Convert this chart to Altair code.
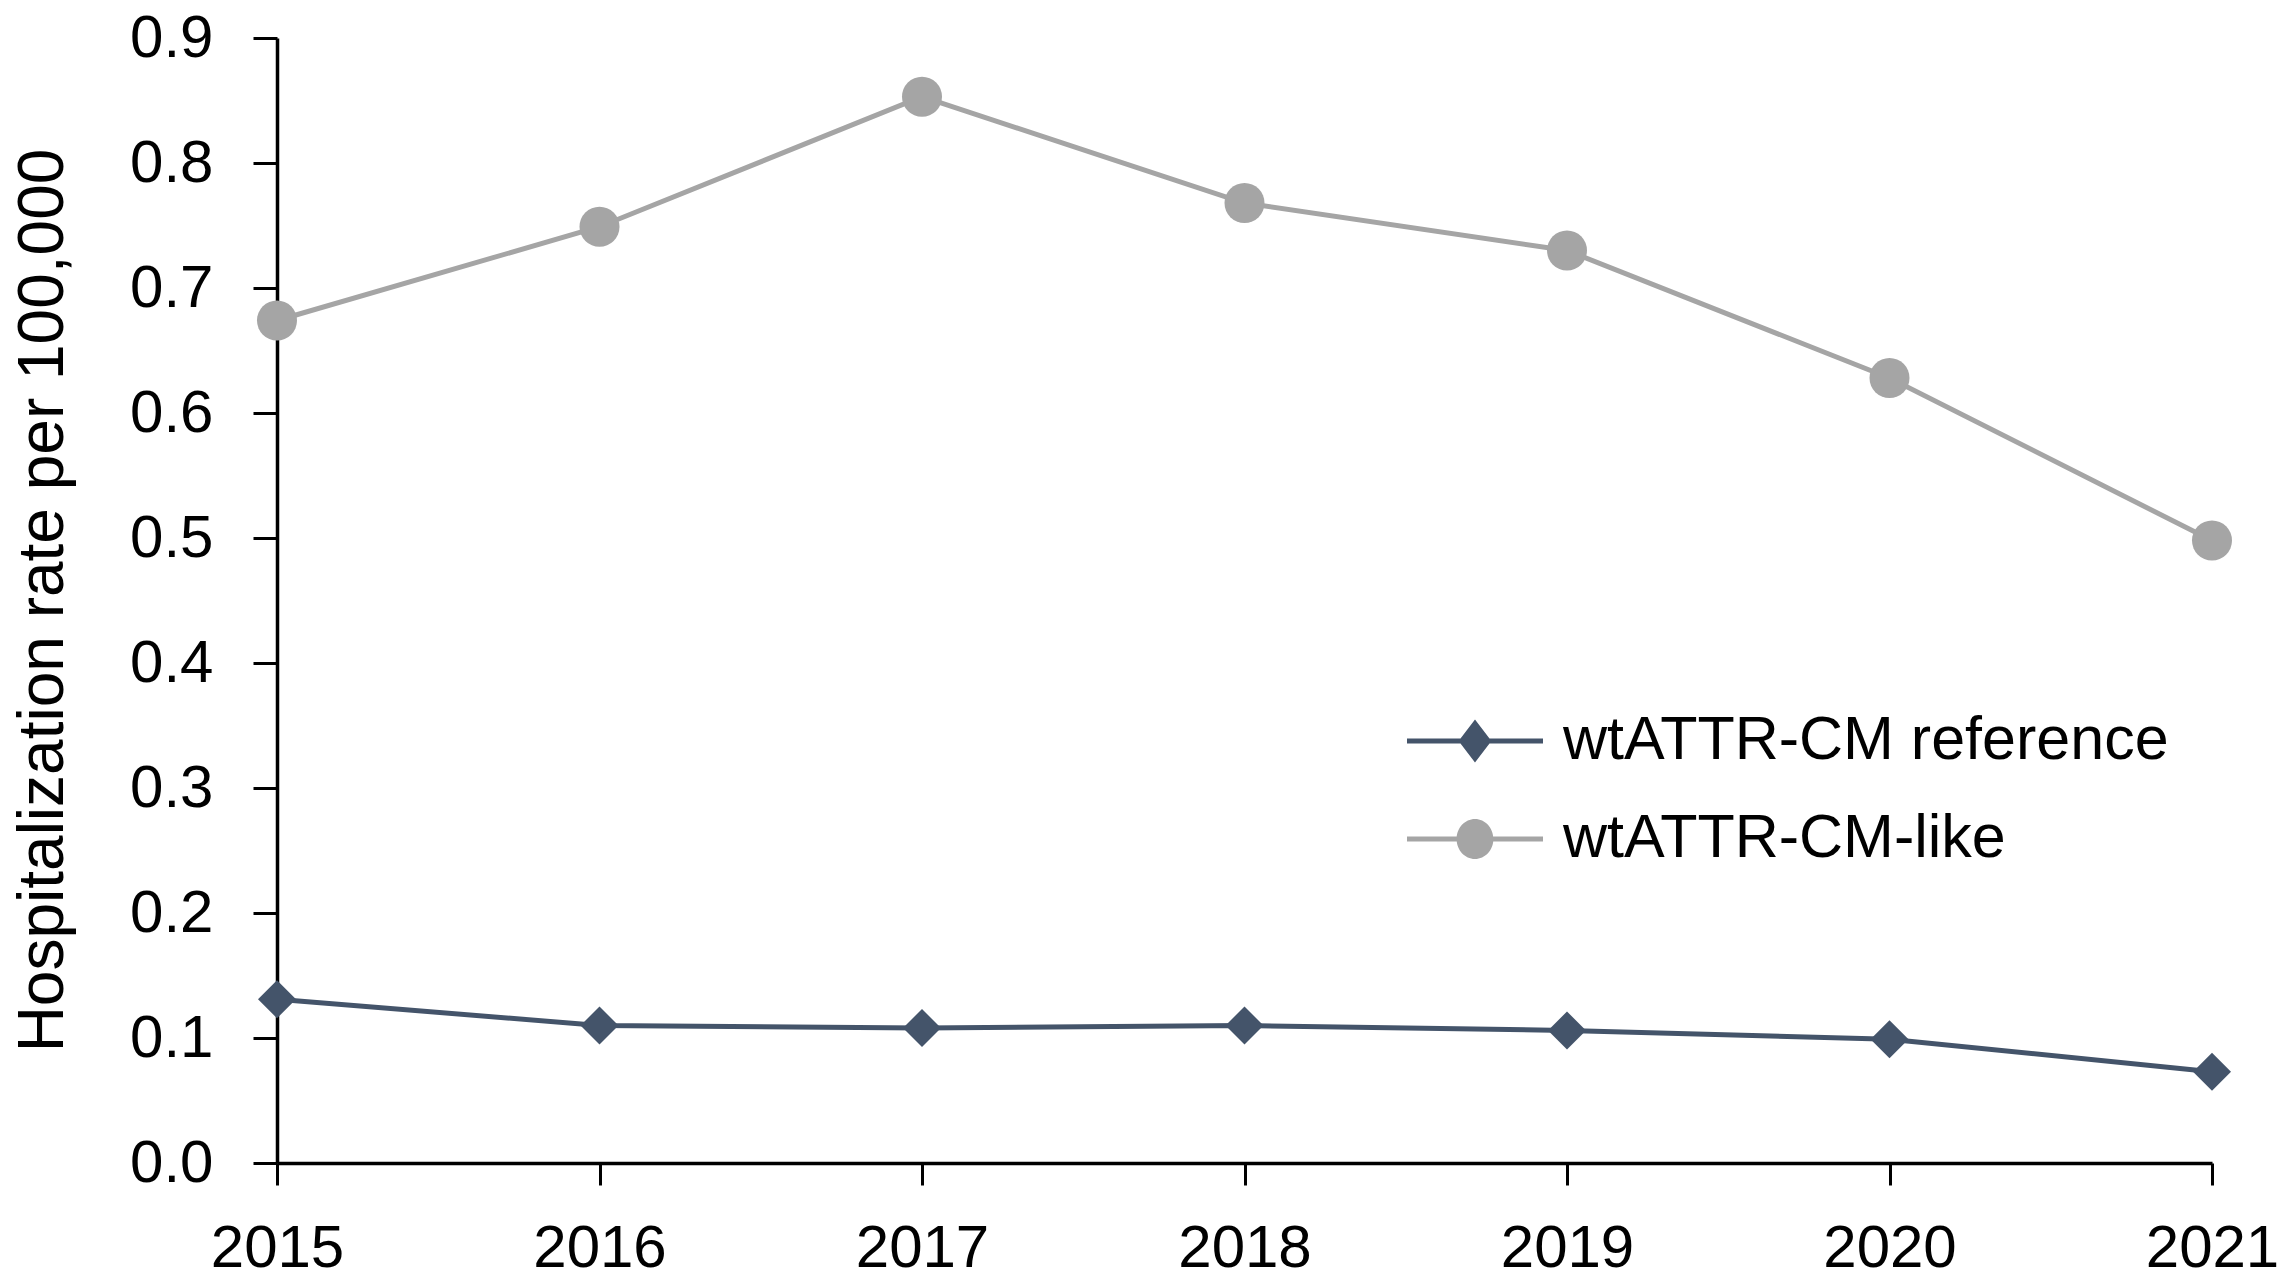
import altair as alt
import pandas as pd

# ---- data ----
years = [2015, 2016, 2017, 2018, 2019, 2020, 2021]
series_names = ["wtATTR-CM reference", "wtATTR-CM-like"]
reference_rate = [0.131, 0.110, 0.108, 0.110, 0.106, 0.099, 0.073]
like_rate = [0.674, 0.749, 0.853, 0.768, 0.730, 0.628, 0.498]
y_tick_values = [0.0, 0.1, 0.2, 0.3, 0.4, 0.5, 0.6, 0.7, 0.8, 0.9]
series_colors = ["#44546A", "#A5A5A5"]

rows = []
for name, vals in zip(series_names, [reference_rate, like_rate]):
    for yr, v in zip(years, vals):
        rows.append({"year": yr, "rate": v, "series": name})
df = pd.DataFrame(rows)

FONT = "Liberation Sans, Arial, sans-serif"

# legend symbols: a short line with the marker on it (all filled); 1 unit = 40 px
seg = "M-1.7,-0.0625L1.7,-0.0625L1.7,0.0625L-1.7,0.0625Z"
legend_diamond = seg + "M-0.41,0L0,-0.54L0.41,0L0,0.54Z"
legend_circle = seg + "M0.46,0A0.46,0.5 0 1,1 -0.46,0A0.46,0.5 0 1,1 0.46,0Z"

x_enc = alt.X(
    "year:Q",
    scale=alt.Scale(domain=[years[0], years[-1]], nice=False, zero=False),
    axis=alt.Axis(
        values=years,
        format="d",
        title=None,
        grid=False,
        labelFont=FONT,
        labelFontSize=60,
        labelColor="black",
        labelPadding=34,
        labelFlush=False,
        tickSize=22,
        tickWidth=3,
        tickColor="black",
        domainColor="black",
        domainWidth=3.5,
    ),
)
y_enc = alt.Y(
    "rate:Q",
    scale=alt.Scale(domain=[0, 0.9], nice=False),
    axis=alt.Axis(
        values=y_tick_values,
        format=".1f",
        title="Hospitalization rate per 100,000",
        titleFont=FONT,
        titleFontSize=64,
        titleFontWeight="normal",
        titleColor="black",
        titleAngle=270,
        titleAlign="center",
        titleBaseline="middle",
        titleX=-234,
        titleY=562,
        grid=False,
        labelFont=FONT,
        labelFontSize=60,
        labelColor="black",
        labelPadding=40,
        labelFlush=False,
        tickSize=24,
        tickWidth=3,
        tickColor="black",
        domainColor="black",
        domainWidth=3.5,
    ),
)

layers = []
for name, col in zip(series_names, series_colors):
    layers.append(
        alt.Chart(df)
        .transform_filter(alt.datum.series == name)
        .mark_line(strokeWidth=5, color=col)
        .encode(x=x_enc, y=y_enc)
    )
for name, col, shp, sz in zip(series_names, series_colors, ["diamond", "circle"], [1444, 1600]):
    layers.append(
        alt.Chart(df)
        .transform_filter(alt.datum.series == name)
        .mark_point(filled=True, opacity=1, color=col, shape=shp, size=sz)
        .encode(x=x_enc, y=y_enc)
    )

legend_def = alt.Legend(
    orient="none",
    legendX=1158,
    legendY=663,
    title=None,
    padding=0,
    symbolSize=6400,
    symbolStrokeWidth=0,
    symbolOpacity=1,
    labelFont=FONT,
    labelFontSize=61,
    labelColor="black",
    labelOffset=48,
    rowPadding=28,
    labelLimit=900,
)

legend_layer = (
    alt.Chart(df)
    .transform_filter("false")
    .mark_point(filled=True, size=6400, opacity=1)
    .encode(
        x=x_enc,
        y=y_enc,
        color=alt.Color(
            "series:N",
            scale=alt.Scale(domain=series_names, range=series_colors),
            legend=legend_def,
        ),
        shape=alt.Shape(
            "series:N",
            scale=alt.Scale(domain=series_names, range=[legend_diamond, legend_circle]),
            legend=legend_def,
        ),
    )
)
layers.append(legend_layer)

chart = (
    alt.layer(*layers)
    .properties(
        width=1935,
        height=1125,
        autosize=alt.AutoSizeParams(type="none"),
        padding={"left": 269, "top": 30, "right": 67, "bottom": 119},
        background="white",
    )
    .configure_view(strokeWidth=0)
)

chart.save("out.html", embed_options={"renderer": "svg", "actions": False})
